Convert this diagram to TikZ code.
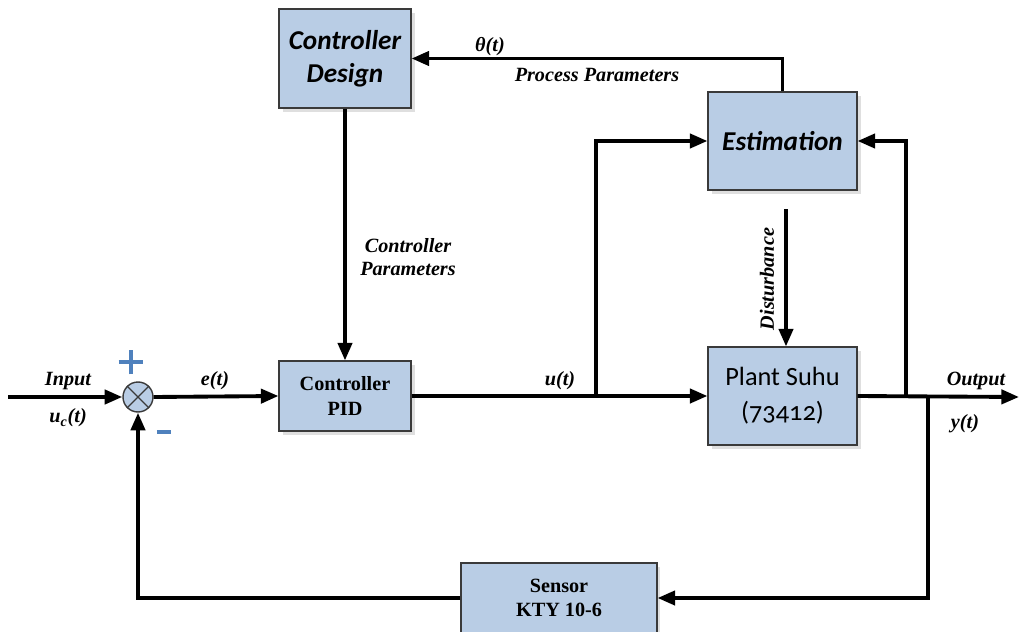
\documentclass[tikz,border=0pt]{standalone}
\usepackage{fontspec}
\setmainfont{Liberation Serif}
\newfontfamily\calib{Carlito}[Numbers=OldStyle]
\usepackage{tikz}
\usetikzlibrary{arrows.meta, positioning, shadows}
\usepackage{xcolor}
\definecolor{boxblue}{HTML}{B9CDE5}
\definecolor{boxedge}{HTML}{3A3A3A}
\definecolor{signblue}{HTML}{4F81BD}

\begin{document}
\begin{tikzpicture}[
    x=0.02cm, y=-0.02cm,
    >={Triangle[length=10pt, width=8pt]},
    % block styles
    block/.style={
        rectangle,
        draw=boxedge,
        fill=boxblue,
        line width=0.6pt,
        align=center,
        drop shadow={opacity=0.25, shadow xshift=2pt, shadow yshift=-2pt}
    },
    calibblock/.style={
        block,
        font=\calib\fontsize{15.5}{19}\selectfont\bfseries\itshape
    },
    timesblock/.style={
        block,
        font=\fontsize{11.5}{14}\selectfont\bfseries
    },
    flow/.style={
        draw=black,
        ->,
        line width=2.2pt
    },
    flowtext/.style={
        font=\fontsize{11.5}{13.5}\selectfont\bfseries\itshape,
        align=center
    },
    sign/.style={
        draw=signblue,
        line width=2.4pt
    }
]
    \useasboundingbox (0,0) rectangle (1019,632);

    % ==========================================
    % 1. BLOCKS
    % ==========================================
    \node[calibblock, minimum width=2.64cm, minimum height=1.98cm] (design) at (345,58.5) {Controller\\Design};
    \node[calibblock, minimum width=2.98cm, minimum height=1.96cm] (est) at (782.5,141) {Estimation};
    \node[timesblock, minimum width=2.64cm, minimum height=1.4cm] (pid) at (345,396) {Controller\\PID};
    \node[block, minimum width=2.98cm, minimum height=1.96cm,
          font=\calib\fontsize{15}{20}\selectfont] (plant) at (782.5,396) {Plant Suhu\\(73412)};
    \node[timesblock, minimum width=3.92cm, minimum height=1.4cm] (sensor) at (559,598) {Sensor\\KTY 10-6};

    % summing junction
    \node[circle, draw=boxedge, fill=boxblue, line width=0.8pt, minimum size=0.6cm, inner sep=0pt] (sum) at (138,397) {};
    \draw[boxedge, line width=0.8pt] (sum.north west) -- (sum.south east);
    \draw[boxedge, line width=0.8pt] (sum.north east) -- (sum.south west);
    % plus and minus signs
    \coordinate (plus) at (131,362);
    \coordinate (minus) at (164,432);
    \draw[sign] ([xshift=-7pt]plus) -- ([xshift=7pt]plus);
    \draw[sign] ([yshift=-7pt]plus) -- ([yshift=7pt]plus);
    \draw[sign, line width=2.8pt] ([xshift=-4pt]minus) -- ([xshift=4pt]minus);

    % free ends and branch points
    \coordinate (in) at (8,397);
    \coordinate (out) at (1019,397);
    \coordinate (ubranch) at (596,397);
    \coordinate (ybranch) at (906,397);
    \coordinate (fbranch) at (928,397);
    \coordinate (dist) at (786,209);

    % ==========================================
    % 2. CONNECTIONS
    % ==========================================
    \path[flow] (in) -- (sum.west);
    \path[flow] (sum.east) -- (pid.west);
    \path[flow] (pid.east) -- (plant.west);
    \path[flow] (ubranch) |- (est.west);
    \path[flow] (plant.east) -- (out);
    \path[flow] (ybranch) |- (est.east);
    \path[flow] (fbranch) |- (sensor.east);
    \path[flow] (sensor.west) -| (sum.south);
    \path[flow] (est.north) |- (design.east);
    \path[flow] (design.south) -- (pid.north);
    \path[flow] (dist) -- (dist |- plant.north);

    % ==========================================
    % 3. LABELS
    % ==========================================
    \node[flowtext] (linput) at (68,381) {Input};
    \node[flowtext] (luc) at (68,418) {u\textsubscript{c}(t)};
    \node[flowtext] (le) at (215,381) {e(t)};
    \node[flowtext] (lu) at (560,381) {u(t)};
    \node[flowtext] (lout) at (976,381) {Output};
    \node[flowtext] (ly) at (965,424) {y(t)};
    \node[flowtext] (ltheta) at (490,47) {θ(t)};
    \node[flowtext] (lproc) at (597,75) {Process Parameters};
    \node[flowtext] (lcpar) at (408,257) {Controller\\Parameters};
    \node[flowtext, rotate=90] (ldist) at (767,279) {Disturbance};

\end{tikzpicture}
\end{document}
